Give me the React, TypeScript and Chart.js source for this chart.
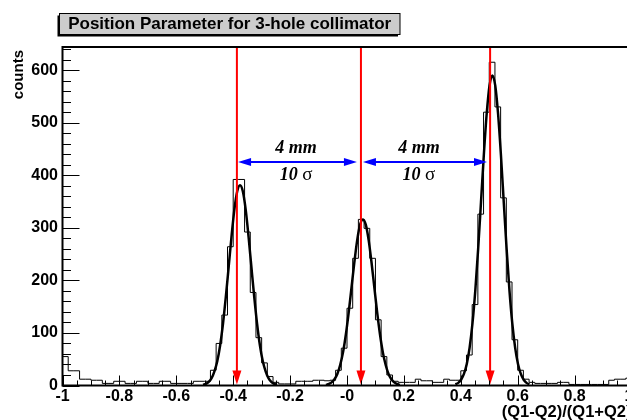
import React, { useEffect, useRef } from 'react';
import { Chart, registerables } from 'chart.js';

Chart.register(...registerables);

// ---- axis / binning ----
const X_MIN = -1;
const X_MAX = 1;
const BIN_WIDTH = 0.02;
const Y_MAX = 644;

// ---- histogram counts (100 bins of 0.02 from -1 to 1) ----
const counts = [
  55, 28, 28, 12, 12, 10, 10, 4, 4, 8,
  8, 4, 4, 8, 8, 4, 4, 8, 8, 4,
  4, 4, 4, 8, 8, 8, 29, 80, 134, 264,
  392, 392, 292, 177, 91, 43, 17, 6, 3, 3,
  3, 8, 8, 8, 10, 10, 9, 10, 29, 71,
  147, 242, 316, 299, 242, 125, 55, 20, 8, 6,
  6, 6, 12, 9, 9, 6, 6, 12, 10, 10,
  28, 58, 154, 326, 520, 615, 530, 357, 197, 87,
  29, 12, 6, 4, 4, 4, 4, 6, 6, 2,
  2, 2, 2, 2, 2, 2, 10, 12, 12, 14,
];

// ---- fitted curve ----
const fit1X = [-0.506, -0.496, -0.486, -0.476, -0.466, -0.456, -0.446, -0.436, -0.426, -0.416, -0.406, -0.396, -0.386, -0.376, -0.366, -0.356, -0.346, -0.336, -0.326, -0.316, -0.306, -0.296, -0.286, -0.276, -0.266, -0.256, -0.246];
const fit1Y = [1.5, 3, 7, 14, 27, 46, 76, 117, 168, 225, 283, 334, 369, 381, 369, 334, 283, 225, 168, 117, 76, 46, 27, 14, 7, 3, 1.5];
const fit2X = [-0.074, -0.064, -0.054, -0.044, -0.034, -0.024, -0.014, -0.004, 0.006, 0.016, 0.026, 0.036, 0.046, 0.056, 0.066, 0.076, 0.086, 0.096, 0.106, 0.116, 0.126, 0.136, 0.146, 0.156, 0.166, 0.176, 0.186];
const fit2Y = [1.2, 3, 6, 12, 22, 39, 63, 97, 139, 187, 235, 277, 306, 316, 306, 277, 235, 187, 139, 97, 63, 39, 22, 12, 6, 3, 1.2];
const fit3X = [0.381, 0.391, 0.401, 0.411, 0.421, 0.431, 0.441, 0.451, 0.461, 0.471, 0.481, 0.491, 0.501, 0.511, 0.521, 0.531, 0.541, 0.551, 0.561, 0.571, 0.581, 0.591, 0.601, 0.611, 0.621, 0.631, 0.641];
const fit3Y = [2.3, 5, 11, 22, 41, 72, 118, 181, 260, 349, 439, 517, 571, 590, 571, 517, 439, 349, 260, 181, 118, 72, 41, 22, 11, 5, 2.3];

// ---- ticks ----
const xTickValues = [-1, -0.8, -0.6, -0.4, -0.2, 0, 0.2, 0.4, 0.6, 0.8, 1];
const xTickLabels = ['-1', '-0.8', '-0.6', '-0.4', '-0.2', '-0', '0.2', '0.4', '0.6', '0.8', '1'];
const yTickValues = [0, 100, 200, 300, 400, 500, 600];
const yTickLabels = ['0', '100', '200', '300', '400', '500', '600'];

// ---- annotations ----
const peakArrowX = [-0.387, 0.049, 0.503];
const spacingArrows = [
  [-0.383, 0.035],
  [0.056, 0.492],
];
const spacingArrowY = 425;
const spacingTextX = [-0.179, 0.253];
const spacingTopText = '4 mm';
const spacingBottomNumber = '10 ';
const spacingBottomSymbol = 'σ';
const spacingTopY = 452;
const spacingBottomY = 400;

const TITLE = 'Position Parameter for 3-hole collimator';
const X_TITLE = '(Q1-Q2)/(Q1+Q2)';
const Y_TITLE = 'counts';

const SANS = '"Liberation Sans", Arial, Helvetica, sans-serif';
const SERIF = '"Liberation Serif", "Times New Roman", serif';

const overlayPlugin = {
  id: 'overlay',
  afterDatasetsDraw(chart: any) {
    const { ctx, chartArea: ca, scales } = chart;
    const xs = scales.x;
    const ys = scales.y;
    ctx.save();

    // red vertical arrows
    ctx.strokeStyle = 'rgb(255,0,0)';
    ctx.fillStyle = 'rgb(255,0,0)';
    ctx.lineWidth = 2;
    peakArrowX.forEach((v) => {
      const px = xs.getPixelForValue(v);
      const yTop = ca.top;
      const yBot = ys.getPixelForValue(0) - 1;
      ctx.beginPath();
      ctx.moveTo(px, yTop);
      ctx.lineTo(px, yBot - 10);
      ctx.stroke();
      ctx.beginPath();
      ctx.moveTo(px - 4.5, yBot - 14);
      ctx.lineTo(px + 4.5, yBot - 14);
      ctx.lineTo(px, yBot);
      ctx.closePath();
      ctx.fill();
    });

    // blue double arrows
    ctx.strokeStyle = 'rgb(0,0,255)';
    ctx.fillStyle = 'rgb(0,0,255)';
    ctx.lineWidth = 2;
    const ay = ys.getPixelForValue(spacingArrowY);
    spacingArrows.forEach(([a, b]) => {
      const x1 = xs.getPixelForValue(a);
      const x2 = xs.getPixelForValue(b);
      ctx.beginPath();
      ctx.moveTo(x1 + 8, ay);
      ctx.lineTo(x2 - 8, ay);
      ctx.stroke();
      ctx.beginPath();
      ctx.moveTo(x1, ay);
      ctx.lineTo(x1 + 13, ay - 4);
      ctx.lineTo(x1 + 13, ay + 4);
      ctx.closePath();
      ctx.fill();
      ctx.beginPath();
      ctx.moveTo(x2, ay);
      ctx.lineTo(x2 - 13, ay - 4);
      ctx.lineTo(x2 - 13, ay + 4);
      ctx.closePath();
      ctx.fill();
    });

    // spacing texts
    ctx.fillStyle = '#000';
    ctx.textBaseline = 'middle';
    spacingTextX.forEach((v) => {
      const px = xs.getPixelForValue(v);
      ctx.textAlign = 'center';
      ctx.font = `italic bold 18px ${SERIF}`;
      ctx.fillText(spacingTopText, px, ys.getPixelForValue(spacingTopY));
      // "10" italic bold + upright sigma
      const py = ys.getPixelForValue(spacingBottomY);
      const fontNum = `italic bold 18px ${SERIF}`;
      const fontSym = `19px ${SERIF}`;
      ctx.font = fontNum;
      const w1 = ctx.measureText(spacingBottomNumber).width;
      ctx.font = fontSym;
      const w2 = ctx.measureText(spacingBottomSymbol).width;
      const start = px - (w1 + w2) / 2;
      ctx.textAlign = 'left';
      ctx.font = fontNum;
      ctx.fillText(spacingBottomNumber, start, py);
      ctx.font = fontSym;
      ctx.fillText(spacingBottomSymbol, start + w1, py);
    });

    // frame
    ctx.strokeStyle = '#000';
    ctx.lineWidth = 2;
    ctx.strokeRect(ca.left, ca.top, ca.right - ca.left, ca.bottom - ca.top);

    // ticks
    ctx.lineWidth = 1;
    ctx.beginPath();
    for (let v = 0; v <= Y_MAX; v += 20) {
      const py = Math.round(ys.getPixelForValue(v)) + 0.5;
      const len = v % 100 === 0 ? 17 : 8.5;
      ctx.moveTo(ca.left, py);
      ctx.lineTo(ca.left + len, py);
    }
    for (let i = 0; i <= 40; i++) {
      const v = X_MIN + i * 0.05;
      const px = Math.round(xs.getPixelForValue(v)) + 0.5;
      const len = i % 4 === 0 ? 10 : 5;
      ctx.moveTo(px, ca.bottom);
      ctx.lineTo(px, ca.bottom - len);
    }
    ctx.stroke();

    // tick labels
    ctx.fillStyle = '#000';
    ctx.font = `bold 16px ${SANS}`;
    ctx.textAlign = 'right';
    ctx.textBaseline = 'middle';
    yTickValues.forEach((v, i) => {
      ctx.fillText(yTickLabels[i], 58, ys.getPixelForValue(v));
    });
    ctx.textAlign = 'center';
    ctx.textBaseline = 'alphabetic';
    xTickValues.forEach((v, i) => {
      const px = Math.min(xs.getPixelForValue(v), 629);
      ctx.fillText(xTickLabels[i], px, 401);
    });

    // axis titles
    ctx.textAlign = 'right';
    ctx.font = `bold 16.5px ${SANS}`;
    ctx.fillText(X_TITLE, ca.right, 417);
    ctx.save();
    ctx.translate(19, 50);
    ctx.rotate(-Math.PI / 2);
    ctx.textAlign = 'right';
    ctx.textBaseline = 'middle';
    ctx.font = `bold 15px ${SANS}`;
    ctx.fillText(Y_TITLE, 0, 0);
    ctx.restore();

    // title box with shadow
    ctx.fillStyle = '#000';
    ctx.fillRect(57.5, 15.5, 340.5, 21);
    ctx.fillStyle = '#cccccc';
    ctx.fillRect(59.5, 13.5, 340.5, 21);
    ctx.strokeStyle = '#000';
    ctx.lineWidth = 1;
    ctx.strokeRect(59.5, 13.5, 340.5, 21);
    ctx.fillStyle = '#000';
    ctx.font = `bold 17px ${SANS}`;
    ctx.textAlign = 'center';
    ctx.textBaseline = 'middle';
    ctx.fillText(TITLE, 229.7, 24.5);

    ctx.restore();
  },
};

export default function App() {
  const canvasRef = useRef<HTMLCanvasElement | null>(null);

  useEffect(() => {
    const canvas = canvasRef.current;
    if (!canvas) return;

    const histData: { x: number; y: number }[] = [{ x: X_MIN, y: 0 }];
    counts.forEach((c, i) => histData.push({ x: X_MIN + i * BIN_WIDTH, y: c }));
    histData.push({ x: X_MAX, y: 0 });

    const fitDataset = (xsArr: number[], ysArr: number[]) => ({
      data: xsArr.map((x, i) => ({ x, y: ysArr[i] })),
      borderColor: '#000',
      borderWidth: 2.5,
      pointRadius: 0,
      fill: false,
      cubicInterpolationMode: 'monotone' as const,
    });

    const chart = new Chart(canvas, {
      type: 'line',
      data: {
        datasets: [
          {
            data: histData,
            borderColor: '#000',
            borderWidth: 1,
            pointRadius: 0,
            fill: false,
            stepped: 'before',
          } as any,
          fitDataset(fit1X, fit1Y),
          fitDataset(fit2X, fit2Y),
          fitDataset(fit3X, fit3Y),
        ],
      },
      options: {
        responsive: false,
        animation: false,
        devicePixelRatio: 1,
        events: [],
        layout: { padding: { left: 62.5, right: 8.5, top: 47, bottom: 34.5 } },
        scales: {
          x: { type: 'linear', min: X_MIN, max: X_MAX, display: false },
          y: { type: 'linear', min: 0, max: Y_MAX, display: false },
        },
        plugins: {
          legend: { display: false },
          tooltip: { enabled: false },
          title: { display: false },
        },
      },
      plugins: [overlayPlugin],
    });

    return () => chart.destroy();
  }, []);

  return (
    <div
      style={{
        position: 'fixed',
        left: 0,
        top: 0,
        width: 627,
        height: 420,
        overflow: 'hidden',
        background: '#fff',
      }}
    >
      <canvas ref={canvasRef} width={640} height={420} style={{ display: 'block' }} />
    </div>
  );
}
